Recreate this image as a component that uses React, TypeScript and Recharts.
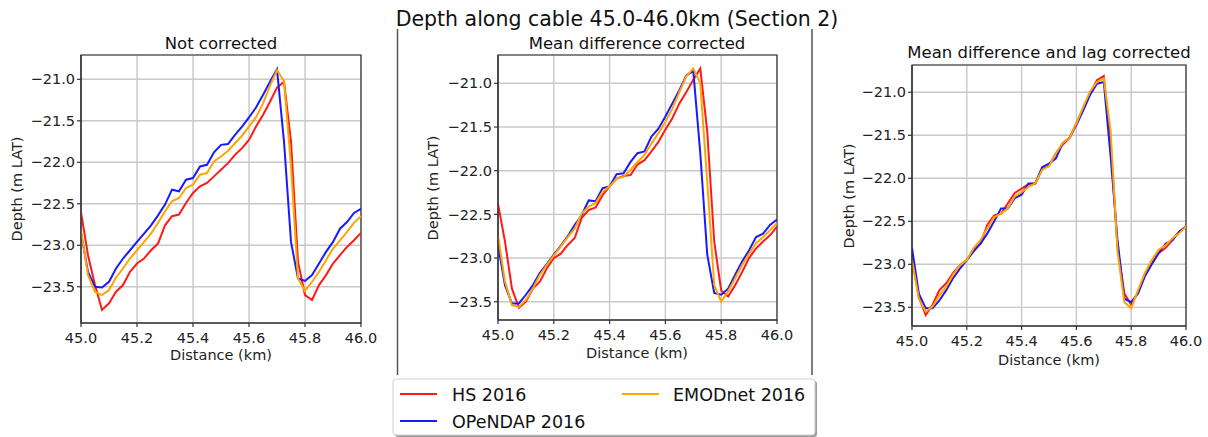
import { CartesianGrid, Line, LineChart, ReferenceArea, XAxis, YAxis } from "recharts";

const FONT = "DejaVu Sans, Verdana, sans-serif";

// sample positions along the cable (km)
const distance = [
  45.0, 45.025, 45.05, 45.075, 45.1, 45.125, 45.15, 45.175, 45.2, 45.225,
  45.25, 45.275, 45.3, 45.325, 45.35, 45.375, 45.4, 45.425, 45.45, 45.475,
  45.5, 45.525, 45.55, 45.575, 45.6, 45.625, 45.65, 45.675, 45.7, 45.725,
  45.75, 45.775, 45.8, 45.825, 45.85, 45.875, 45.9, 45.925, 45.95, 45.975, 46.0,
];

const distanceTicks = [45.0, 45.2, 45.4, 45.6, 45.8, 46.0];
const depthTicks = [-23.5, -23.0, -22.5, -22.0, -21.5, -21.0];

// raw depths (m LAT)
const hsRaw = [
  -22.6, -23.12, -23.48, -23.78, -23.7, -23.56, -23.48, -23.32, -23.22, -23.16,
  -23.06, -22.98, -22.76, -22.65, -22.63, -22.49, -22.37, -22.29, -22.25, -22.17,
  -22.09, -22.01, -21.91, -21.83, -21.73, -21.57, -21.43, -21.27, -21.1, -21.03,
  -21.75, -23.2, -23.6, -23.66, -23.48, -23.36, -23.22, -23.12, -23.02, -22.94, -22.85,
];
const opendapRaw = [
  -22.85, -23.32, -23.5, -23.51, -23.44, -23.28, -23.16, -23.06, -22.96, -22.86,
  -22.76, -22.64, -22.51, -22.33, -22.35, -22.21, -22.19, -22.05, -22.03, -21.88,
  -21.79, -21.78, -21.67, -21.57, -21.46, -21.34, -21.19, -21.03, -20.88, -21.75,
  -22.96, -23.4, -23.43, -23.36, -23.22, -23.08, -22.96, -22.8, -22.72, -22.61, -22.56,
];
const emodnetRaw = [
  -22.82, -23.36, -23.56, -23.6, -23.54, -23.39, -23.28, -23.16, -23.06, -22.96,
  -22.86, -22.73, -22.59, -22.47, -22.43, -22.31, -22.27, -22.15, -22.13, -21.99,
  -21.93, -21.86, -21.77, -21.68, -21.57, -21.46, -21.29, -21.08, -20.89, -21.02,
  -22.05, -23.4, -23.55, -23.44, -23.32, -23.18, -23.04, -22.94, -22.84, -22.73, -22.65,
];

// after removing the mean difference
const hsMean = [
  -22.38, -22.81, -23.35, -23.57, -23.5, -23.35, -23.27, -23.12, -23.0, -22.95,
  -22.85, -22.77, -22.54, -22.45, -22.42, -22.28, -22.18, -22.09, -22.06, -22.05,
  -21.93, -21.88, -21.78, -21.67, -21.53, -21.4, -21.23, -21.1, -20.96, -20.83,
  -21.55, -22.81, -23.37, -23.44, -23.31, -23.16, -23.0, -22.89, -22.81, -22.74, -22.64,
];
const opendapMean = [
  -22.85, -23.31, -23.52, -23.52, -23.42, -23.31, -23.17, -23.07, -22.96, -22.86,
  -22.75, -22.62, -22.51, -22.34, -22.35, -22.2, -22.18, -22.04, -22.03, -21.9,
  -21.8, -21.78, -21.61, -21.52, -21.38, -21.23, -21.08, -20.91, -20.86, -21.8,
  -22.96, -23.4, -23.42, -23.35, -23.19, -23.04, -22.91, -22.76, -22.72, -22.62, -22.56,
];
const emodnetMean = [
  -22.74, -23.27, -23.54, -23.56, -23.48, -23.35, -23.19, -23.08, -22.97, -22.87,
  -22.76, -22.66, -22.49, -22.41, -22.37, -22.24, -22.18, -22.09, -22.07, -21.99,
  -21.9, -21.82, -21.69, -21.57, -21.44, -21.29, -21.1, -20.92, -20.83, -21.0,
  -22.13, -23.31, -23.5, -23.38, -23.23, -23.08, -22.95, -22.83, -22.76, -22.68, -22.6,
];

// after removing mean difference and lag
const hsLag = [
  -22.93, -23.38, -23.59, -23.47, -23.3, -23.22, -23.1, -23.01, -22.95, -22.83,
  -22.76, -22.54, -22.43, -22.41, -22.29, -22.17, -22.12, -22.07, -22.06, -21.89,
  -21.85, -21.71, -21.61, -21.53, -21.36, -21.19, -21.01, -20.86, -20.81, -21.6,
  -22.8, -23.34, -23.47, -23.32, -23.12, -22.99, -22.87, -22.81, -22.72, -22.62, -22.56,
];
const opendapLag = [
  -22.81, -23.34, -23.51, -23.51, -23.42, -23.3, -23.16, -23.05, -22.95, -22.85,
  -22.76, -22.64, -22.5, -22.35, -22.35, -22.23, -22.19, -22.06, -22.06, -21.87,
  -21.83, -21.77, -21.59, -21.53, -21.38, -21.21, -21.03, -20.9, -20.88, -21.75,
  -22.72, -23.4, -23.44, -23.34, -23.14, -23.0, -22.87, -22.76, -22.72, -22.62, -22.56,
];
const emodnetLag = [
  -22.95, -23.4, -23.55, -23.49, -23.36, -23.26, -23.12, -23.01, -22.95, -22.81,
  -22.72, -22.58, -22.45, -22.41, -22.35, -22.21, -22.16, -22.1, -22.06, -21.9,
  -21.86, -21.71, -21.59, -21.53, -21.36, -21.17, -20.99, -20.88, -20.84, -21.45,
  -22.85, -23.44, -23.51, -23.3, -23.1, -22.95, -22.83, -22.78, -22.7, -22.64, -22.56,
];

const RED = "#ff1a1a";
const BLUE = "#1a1aff";
const ORANGE = "#ffa500";
const SPINE = "#333333";

const fmtDepth = (v: number) => v.toFixed(1).replace("-", "\u2212");
const fmtDist = (v: number) => v.toFixed(1);

type PanelProps = {
  hs: number[];
  op: number[];
  em: number[];
  left: number;
  top: number;
  width: number;
  height: number;
  margin: { top: number; right: number; bottom: number; left: number };
  yWidth: number;
  xHeight: number;
  yDomain: [number, number];
};

function Panel({ hs, op, em, left, top, width, height, margin, yWidth, xHeight, yDomain }: PanelProps) {
  const rows = distance.map((d, i) => ({ d, hs: hs[i], op: op[i], em: em[i] }));
  const tickStyle = { fontSize: 14.5, fill: "#222", fontFamily: FONT };
  return (
    <div style={{ position: "absolute", left, top, width, height }}>
      <LineChart width={width} height={height} data={rows} margin={margin}>
        <CartesianGrid stroke="#c8c8c8" strokeWidth={1.4} />
        <XAxis
          dataKey="d"
          type="number"
          domain={[45, 46]}
          ticks={distanceTicks}
          tickFormatter={fmtDist}
          allowDataOverflow
          height={xHeight}
          tickSize={4}
          tickMargin={6}
          tick={tickStyle}
          stroke={SPINE}
          strokeWidth={1.2}
        />
        <YAxis
          type="number"
          domain={yDomain}
          ticks={depthTicks}
          tickFormatter={fmtDepth}
          allowDataOverflow
          width={yWidth}
          tickSize={4}
          tickMargin={2}
          tick={tickStyle}
          stroke={SPINE}
          strokeWidth={1.2}
        />
        <Line dataKey="hs" stroke={RED} strokeWidth={2} dot={false} isAnimationActive={false} />
        <Line dataKey="op" stroke={BLUE} strokeWidth={2} dot={false} isAnimationActive={false} />
        <Line dataKey="em" stroke={ORANGE} strokeWidth={2} dot={false} isAnimationActive={false} />
        {/* axes frame on all four sides */}
        <ReferenceArea x1={45} x2={46} y1={yDomain[0]} y2={yDomain[1]} fill="none" fillOpacity={0} stroke={SPINE} strokeWidth={1.2} />
      </LineChart>
    </div>
  );
}

export default function App() {
  const titleStyle = { fontSize: 16.5, fill: "#111" };
  const labelStyle = { fontSize: 14.5, fill: "#222" };
  return (
    <div style={{ position: "absolute", left: 0, top: 0, width: 1208, height: 437, background: "#fff", fontFamily: FONT }}>
      <svg width={1208} height={437} style={{ position: "absolute", left: 0, top: 0 }} fontFamily={FONT}>
        <text x={617} y={26} textAnchor="middle" fontSize={20.5} fill="#111">
          Depth along cable 45.0-46.0km (Section 2)
        </text>
        <line x1={397.5} y1={29} x2={397.5} y2={375} stroke="#555" strokeWidth={1.5} />
        <line x1={812} y1={29} x2={812} y2={375} stroke="#555" strokeWidth={1.5} />

        <text x={221} y={49} textAnchor="middle" {...titleStyle}>Not corrected</text>
        <text x={637} y={48.5} textAnchor="middle" {...titleStyle}>Mean difference corrected</text>
        <text x={1049} y={58} textAnchor="middle" {...titleStyle}>Mean difference and lag corrected</text>

        <text x={221} y={360} textAnchor="middle" {...labelStyle}>Distance (km)</text>
        <text x={637} y={358} textAnchor="middle" {...labelStyle}>Distance (km)</text>
        <text x={1049} y={365} textAnchor="middle" {...labelStyle}>Distance (km)</text>

        <text transform="translate(22,189) rotate(-90)" textAnchor="middle" {...labelStyle}>Depth (m LAT)</text>
        <text transform="translate(438,188) rotate(-90)" textAnchor="middle" {...labelStyle}>Depth (m LAT)</text>
        <text transform="translate(854,196) rotate(-90)" textAnchor="middle" {...labelStyle}>Depth (m LAT)</text>

        {/* legend */}
        <rect x={395} y={381} width={422} height={56} rx={3} fill="#9a9a9a" />
        <rect x={393} y={379} width={422} height={56} rx={3} fill="#fff" stroke="#d0d0d0" strokeWidth={1} />
        <line x1={400} y1={394} x2={437} y2={394} stroke={RED} strokeWidth={2} />
        <text x={452} y={400.5} fontSize={17.5} fill="#111">HS 2016</text>
        <line x1={400} y1={421} x2={437} y2={421} stroke={BLUE} strokeWidth={2} />
        <text x={452} y={427.5} fontSize={17.5} fill="#111">OPeNDAP 2016</text>
        <line x1={622} y1={394} x2={659} y2={394} stroke={ORANGE} strokeWidth={2} />
        <text x={673} y={400.5} fontSize={17.5} fill="#111">EMODnet 2016</text>
      </svg>

      <Panel
        hs={hsRaw}
        op={opendapRaw}
        em={emodnetRaw}
        left={0}
        top={30}
        width={400}
        height={340}
        margin={{ top: 25, right: 39, bottom: 0, left: 0 }}
        yWidth={81}
        xHeight={47}
        yDomain={[-23.937, -20.707]}
      />
      <Panel
        hs={hsMean}
        op={opendapMean}
        em={emodnetMean}
        left={400}
        top={30}
        width={410}
        height={340}
        margin={{ top: 25, right: 33, bottom: 0, left: 0 }}
        yWidth={98}
        xHeight={50}
        yDomain={[-23.709, -20.676]}
      />
      <Panel
        hs={hsLag}
        op={opendapLag}
        em={emodnetLag}
        left={820}
        top={30}
        width={388}
        height={340}
        margin={{ top: 35, right: 22, bottom: 0, left: 0 }}
        yWidth={92}
        xHeight={44}
        yDomain={[-23.717, -20.683]}
      />
    </div>
  );
}
